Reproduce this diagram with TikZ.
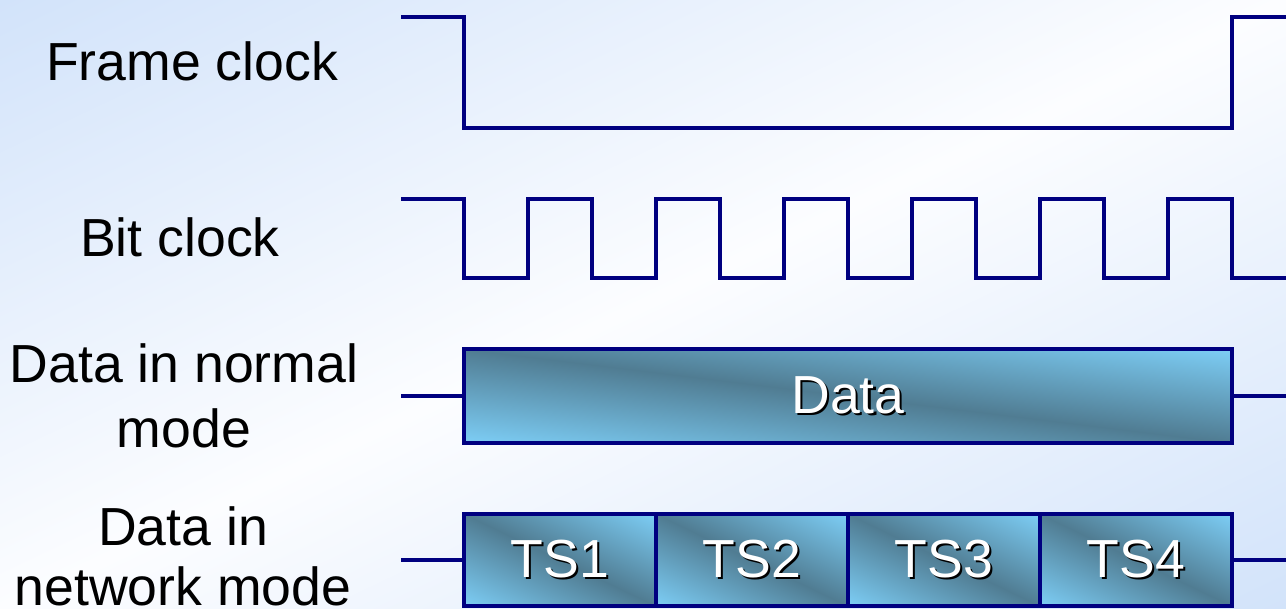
\documentclass[tikz,border=0pt]{standalone}
\usepackage{fontspec}
\setmainfont{Liberation Sans}
\usetikzlibrary{positioning,backgrounds}
\definecolor{navy}{RGB}{0,0,128}
\definecolor{bgblue}{RGB}{210,227,250}
\definecolor{bgwhite}{RGB}{252,253,255}
\definecolor{slotlight}{RGB}{125,206,246}
\definecolor{slotdark}{RGB}{80,124,146}
\pgfdeclareverticalshading{bgshade}{100bp}{color(0bp)=(bgblue); color(25bp)=(bgblue); color(50bp)=(bgwhite); color(75bp)=(bgblue); color(100bp)=(bgblue)}
\pgfdeclareverticalshading{slotshade}{100bp}{color(0bp)=(slotlight); color(25bp)=(slotlight); color(50bp)=(slotdark); color(75bp)=(slotlight); color(100bp)=(slotlight)}
\newcommand{\shtxt}[1]{\makebox[0pt][l]{\hspace{1.2pt}\raisebox{-1.2pt}{\color{black}#1}}{\color{white}#1}}
% diagonal fill behind node #1, a #2 x #3 cm box
\newcommand{\slotfill}[3]{%
  \pgfmathsetmacro\hd{0.7072*#3}
  \begin{scope}[on background layer]
    \begin{scope}
      \clip (#1.south west) rectangle (#1.north east);
      \begin{scope}[transform canvas={shift={(#1.center)},xscale=#2/#3,rotate=-45}]
        \shade[shading=slotshade] (-\hd cm,-\hd cm) rectangle (\hd cm,\hd cm);
      \end{scope}
    \end{scope}
  \end{scope}}

\begin{document}
\begin{tikzpicture}[x=0.02cm,y=-0.02cm,
    wave/.style={navy,line width=2pt},
    lbl/.style={anchor=base,inner sep=0pt,align=center,font=\fontsize{30.5}{36.5}\selectfont},
    slot/.style 2 args={draw=navy,line width=2pt,minimum width=#1cm,minimum height=#2cm,
      inner sep=0pt,outer sep=0pt,font=\fontsize{30.5}{36.5}\selectfont}]
  \useasboundingbox (0,0) rectangle (1286,609);
  \begin{scope}[on background layer]
    \begin{scope}[transform canvas={shift={(643,304.5)},xscale=2.1117,rotate=45}]
      \shade[shading=bgshade] (-8.613cm,-8.613cm) rectangle (8.613cm,8.613cm);
    \end{scope}
  \end{scope}

  \node[lbl] (fclbl) at (192,80) {Frame clock};
  \node[lbl] (bclbl) at (180,256) {Bit clock};
  \node[lbl] (nmlbl) at (184,447) {Data in normal\\mode};
  \node[lbl] (nwlbl) at (183,605) {Data in\\[-2.5pt]network mode};

  % clocks
  \draw[wave] (401,17) -- (464,17) -- (464,128) -- (1232,128) -- (1232,17) -- (1286,17);
  \draw[wave] (401,199) -- (464,199) \foreach \k in {0,...,5}{ -- ++(0,79) -- ++(64,0) -- ++(0,-79) -- ++(64,0)} -- ++(0,79) -- (1286,278);

  % normal mode
  \node[slot={15.36}{1.88}] (data) at (848,396) {\shtxt{Data}};
  \slotfill{data}{15.36}{1.88}
  \coordinate (dnl) at (401,396);
  \coordinate (dnr) at (1286,396);
  \draw[wave] (dnl) -- (data);
  \draw[wave] (data) -- (dnr);

  % network mode
  \node[slot={3.84}{1.84}] (ts1) at (560,560) {\shtxt{TS1}};
  \node[slot={3.84}{1.84},right=0pt of ts1] (ts2) {\shtxt{TS2}};
  \node[slot={3.84}{1.84},right=0pt of ts2] (ts3) {\shtxt{TS3}};
  \node[slot={3.84}{1.84},right=0pt of ts3] (ts4) {\shtxt{TS4}};
  \slotfill{ts1}{3.84}{1.84}
  \slotfill{ts2}{3.84}{1.84}
  \slotfill{ts3}{3.84}{1.84}
  \slotfill{ts4}{3.84}{1.84}
  \coordinate (nwl) at (401,560);
  \coordinate (nwr) at (1286,560);
  \draw[wave] (nwl) -- (ts1);
  \draw[wave] (ts4) -- (nwr);
\end{tikzpicture}
\end{document}
